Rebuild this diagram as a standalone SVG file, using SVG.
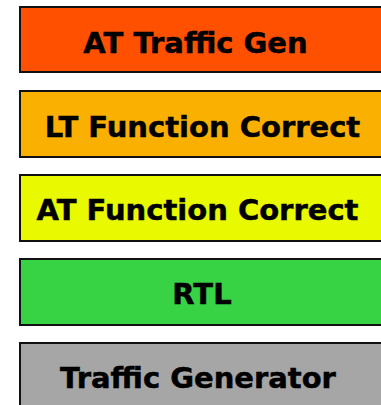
<svg xmlns="http://www.w3.org/2000/svg" width="381" height="405" viewBox="0 0 381 405">
  <style>
    .box { stroke: #111; stroke-width: 2; }
    .label { font-family: "DejaVu Sans", Verdana, sans-serif; font-weight: bold; font-size: 29px; fill: #000; stroke: #000; stroke-width: 0.5; text-anchor: middle; }
  </style>
  <rect width="381" height="405" fill="#fff"/>
  <g id="at-traffic-gen">
    <rect class="box" x="20" y="7" width="380" height="65" fill="#ff5000"/>
    <text class="label" x="195.5" y="53">AT Traffic Gen</text>
  </g>
  <g id="lt-function-correct">
    <rect class="box" x="20" y="91" width="380" height="66" fill="#f9b000"/>
    <text class="label" x="202.5" y="137">LT Function Correct</text>
  </g>
  <g id="at-function-correct">
    <rect class="box" x="20" y="175" width="380" height="66" fill="#e9f900"/>
    <text class="label" x="197.5" y="220">AT Function Correct</text>
  </g>
  <g id="rtl">
    <rect class="box" x="20" y="259" width="380" height="66" fill="#38d344"/>
    <text class="label" x="202" y="304">RTL</text>
  </g>
  <g id="traffic-generator">
    <rect class="box" x="20" y="343" width="380" height="70" fill="#a6a6a6"/>
    <text class="label" x="198" y="388">Traffic Generator</text>
  </g>
</svg>
